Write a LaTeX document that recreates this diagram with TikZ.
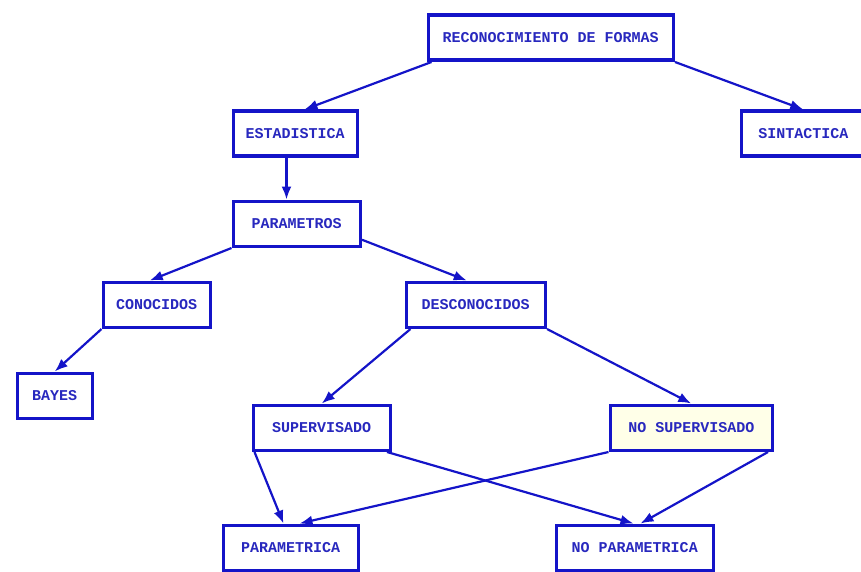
\documentclass[tikz,border=0pt]{standalone}
\usepackage{fontspec}
\setmonofont{Liberation Mono}
\usetikzlibrary{arrows.meta}
\definecolor{boxblue}{RGB}{20,20,200}
\definecolor{txtblue}{RGB}{40,40,190}
\definecolor{paleyellow}{RGB}{255,255,232}
\tikzset{
  box/.style={draw=boxblue, line width=3.5pt, fill=white, anchor=north west,
    inner sep=0pt, minimum height=45pt,
    font=\ttfamily\bfseries\fontsize{15}{17}\selectfont, text=txtblue},
  arr/.style={draw=boxblue, line width=2.2pt,
    -{Latex[length=13pt,width=10pt]}}
}
\begin{document}
\begin{tikzpicture}[x=1pt,y=-1pt]
\useasboundingbox (0,0) rectangle (861,572);

% boxes (top-left corner, size)
\node[box, minimum width=245pt] (reco)   at (426.5,13.5)  {RECONOCIMIENTO DE FORMAS};
\node[box, minimum width=124pt] (esta)   at (231.5,109.5) {ESTADISTICA};
\node[box, minimum width=124pt] (sint)   at (739.5,109.5) {SINTACTICA};
\node[box, minimum width=127pt] (param)  at (231.5,199.5) {PARAMETROS};
\node[box, minimum width=107pt] (conoc)  at (101.5,280.5) {CONOCIDOS};
\node[box, minimum width=139pt] (desc)   at (404.5,280.5) {DESCONOCIDOS};
\node[box, minimum width=75pt]  (bayes)  at (15.5,371.5)  {BAYES};
\node[box, minimum width=137pt] (superv) at (251.5,403.5) {SUPERVISADO};
\node[box, minimum width=162pt, fill=paleyellow] (nosup) at (608.5,403.5) {NO SUPERVISADO};
\node[box, minimum width=135pt] (pmtrc)  at (221.5,523.5) {PARAMETRICA};
\node[box, minimum width=157pt] (npmtrc) at (554.5,523.5) {NO PARAMETRICA};

% connectors
\draw[arr] ([xshift=5pt]reco.south west) -- ([xshift=73pt]esta.north west);
\draw[arr] (reco.south east) -- (sint.north);
\draw[arr] ([xshift=55pt]esta.south west) -- ([xshift=55pt]param.north west);
\draw[arr] (param.south west) -- ([xshift=-7pt]conoc.north);
\draw[arr] ([yshift=-16pt]param.east) -- ([xshift=-9pt]desc.north);
\draw[arr] (conoc.south west) -- (bayes.north);
\draw[arr] ([xshift=6pt]desc.south west) -- (superv.north);
\draw[arr] (desc.south east) -- (nosup.north);
\draw[arr] ([xshift=3pt]superv.south west) -- ([xshift=62pt]pmtrc.north west);
\draw[arr] ([xshift=-5pt]superv.south east) -- ([xshift=79pt]npmtrc.north west);
\draw[arr] (nosup.south west) -- ([xshift=78pt]pmtrc.north west);
\draw[arr] ([xshift=-6pt]nosup.south east) -- ([xshift=86pt]npmtrc.north west);
\end{tikzpicture}
\end{document}
